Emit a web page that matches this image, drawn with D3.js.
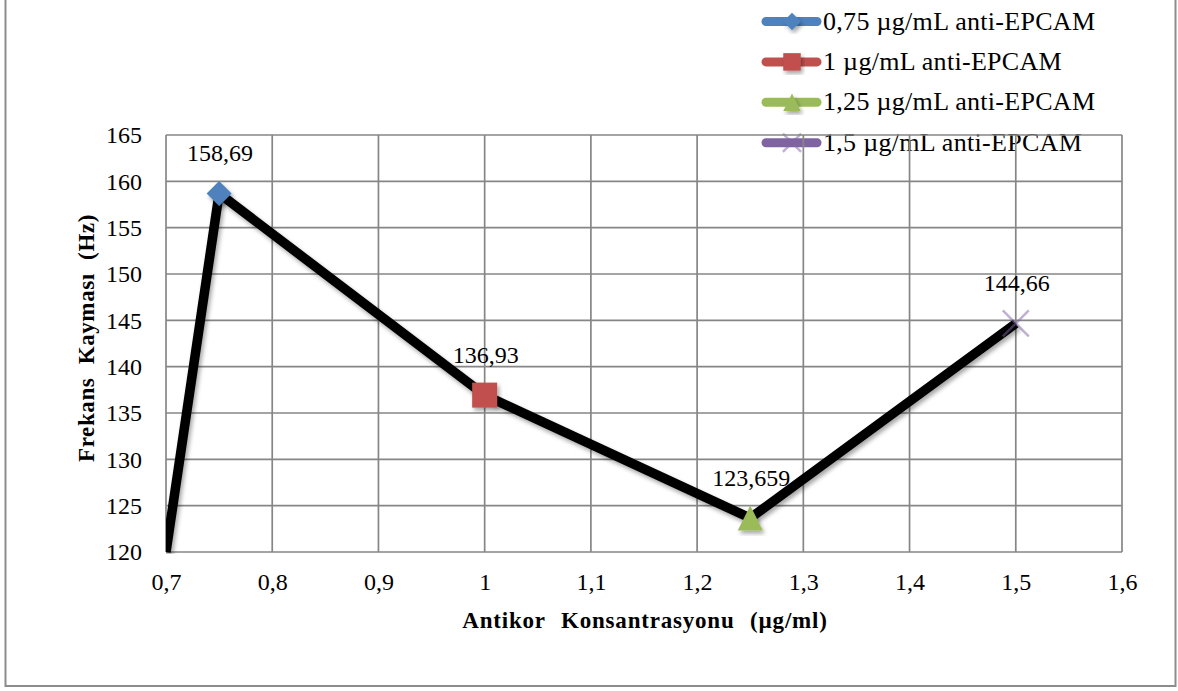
<!DOCTYPE html>
<html>
<head>
<meta charset="utf-8">
<script src="https://cdn.jsdelivr.net/npm/d3@7"></script>
<style>
  body { margin: 0; background: #fff; }
  svg text { font-family: "Liberation Serif", "Times New Roman", serif; fill: #000; }
</style>
</head>
<body>
<div id="chart"></div>
<script>
// data
var concentrations = [0.7, 0.75, 1, 1.25, 1.5];
var shifts = [120, 158.69, 136.93, 123.659, 144.66];
var pointLabels = ['', '158,69', '136,93', '123,659', '144,66'];
var seriesNames = ['0,75 \u00b5g/mL anti-EPCAM', '1 \u00b5g/mL anti-EPCAM', '1,25 \u00b5g/mL anti-EPCAM', '1,5 \u00b5g/mL anti-EPCAM'];
var seriesColors = ['#4f81bd', '#c0504d', '#9bbb59', '#8064a2'];
var seriesShapes = ['diamond', 'square', 'triangle', 'cross'];
var xTicks = [0.7, 0.8, 0.9, 1, 1.1, 1.2, 1.3, 1.4, 1.5, 1.6];
var yTicks = [120, 125, 130, 135, 140, 145, 150, 155, 160, 165];

var width = 1178, height = 691;
var margin = {top: 135, left: 166, right: 56, bottom: 139};

var svg = d3.select('#chart').append('svg')
    .attr('width', width)
    .attr('height', height);

var defs = svg.append('defs');
var shadow = defs.append('filter').attr('id', 'shadow')
    .attr('x', '-20%').attr('y', '-20%').attr('width', '140%').attr('height', '140%');
shadow.append('feDropShadow').attr('dx', 2).attr('dy', 3).attr('stdDeviation', 2)
    .attr('flood-color', '#000').attr('flood-opacity', 0.35);

// outer frame
svg.append('rect')
    .attr('x', 5.5).attr('y', -5)
    .attr('width', 1170).attr('height', 691)
    .attr('fill', 'none').attr('stroke', '#8c8c8c').attr('stroke-width', 2);

var x = d3.scaleLinear().domain([0.7, 1.6]).range([margin.left, width - margin.right]);
var y = d3.scaleLinear().domain([120, 165]).range([height - margin.bottom, margin.top]);

defs.append('clipPath').attr('id', 'plotclip')
    .append('rect')
    .attr('x', x(0.7)).attr('y', 0)
    .attr('width', x(1.6) - x(0.7) + 40).attr('height', y(120) + 2);

var fmt = function(d) { return String(+d.toFixed(2)).replace('.', ','); };

//-----legend (drawn first, plot grid sits over it)-------
var legend = svg.append('g').attr('class', 'legend');
seriesNames.forEach(function(name, i) {
    var ly = 21.5 + i * 40.4;
    var g = legend.append('g').attr('transform', 'translate(0,' + ly + ')');
    g.append('line')
        .attr('x1', 766).attr('x2', 817).attr('y1', 0).attr('y2', 0)
        .attr('stroke', seriesColors[i]).attr('stroke-width', 9)
        .attr('stroke-linecap', 'round');
    drawMarker(g, seriesShapes[i], seriesColors[i], 792, 0, 0.7);
    g.append('text')
        .attr('x', 823).attr('y', 8)
        .attr('font-size', 26)
        .attr('letter-spacing', 0.3)
        .text(name);
});

//-----grid-------
var plot = svg.append('g');
plot.selectAll('line.vgrid').data(xTicks).enter().append('line')
    .attr('class', 'vgrid')
    .attr('x1', function(d) { return x(d); }).attr('x2', function(d) { return x(d); })
    .attr('y1', y(120)).attr('y2', y(165))
    .attr('stroke', '#868686').attr('stroke-width', 1.7);
plot.selectAll('line.hgrid').data(yTicks).enter().append('line')
    .attr('class', 'hgrid')
    .attr('x1', x(0.7)).attr('x2', x(1.6))
    .attr('y1', function(d) { return y(d); }).attr('y2', function(d) { return y(d); })
    .attr('stroke', '#868686').attr('stroke-width', 1.7);

//-----axes-------
var xAxis = d3.axisBottom(x).tickValues(xTicks).tickFormat(fmt).tickSize(0).tickPadding(21);
var gx = svg.append('g').attr('transform', 'translate(0,' + y(120) + ')').call(xAxis);
gx.select('.domain').remove();
gx.selectAll('text').attr('font-size', 24).attr('font-family', 'Liberation Serif, serif').attr('fill', '#000');

var yAxis = d3.axisLeft(y).tickValues(yTicks).tickFormat(d3.format('d')).tickSize(0).tickPadding(24);
var gy = svg.append('g').attr('transform', 'translate(' + x(0.7) + ',0)').call(yAxis);
gy.select('.domain').remove();
gy.selectAll('text').attr('font-size', 24).attr('font-family', 'Liberation Serif, serif').attr('fill', '#000');

svg.append('text')
    .attr('x', 645).attr('y', 628)
    .attr('text-anchor', 'middle')
    .attr('font-size', 23).attr('font-weight', 'bold')
    .attr('letter-spacing', 0.8)
    .attr('word-spacing', 9)
    .text('Antikor Konsantrasyonu (\u00b5g/ml)');

svg.append('text')
    .attr('transform', 'translate(94,338) rotate(-90)')
    .attr('text-anchor', 'middle')
    .attr('font-size', 23).attr('font-weight', 'bold')
    .attr('letter-spacing', 0.6)
    .attr('word-spacing', 7)
    .text('Frekans Kaymas\u0131 (Hz)');

//-----line-------
var pts = concentrations.map(function(c, i) { return [c, shifts[i]]; });
var line = d3.line().x(function(d) { return x(d[0]); }).y(function(d) { return y(d[1]); });
svg.append('g').attr('clip-path', 'url(#plotclip)')
  .append('path')
    .datum(pts)
    .attr('d', line)
    .attr('fill', 'none')
    .attr('stroke', '#000').attr('stroke-width', 9.5)
    .attr('stroke-linejoin', 'miter')
    .attr('filter', 'url(#shadow)');

//-----markers and labels-------
pts.forEach(function(p, i) {
    if (i === 0) return;
    var k = i - 1;
    drawMarker(svg, seriesShapes[k], seriesColors[k], x(p[0]), y(p[1]), 1);
    svg.append('text')
        .attr('x', x(p[0]) + 1).attr('y', y(p[1]) - 32)
        .attr('text-anchor', 'middle')
        .attr('font-size', 24)
        .text(pointLabels[i]);
});

function drawMarker(g, shape, color, cx, cy, s) {
    var m;
    if (shape === 'diamond') {
        var r = 12.5 * s;
        m = g.append('path').attr('d', 'M' + cx + ',' + (cy - r) + 'L' + (cx + r) + ',' + cy + 'L' + cx + ',' + (cy + r) + 'L' + (cx - r) + ',' + cy + 'Z')
            .attr('fill', color);
    } else if (shape === 'square') {
        var h = 12.5 * s;
        m = g.append('rect').attr('x', cx - h).attr('y', cy - h).attr('width', 2 * h).attr('height', 2 * h)
            .attr('fill', color);
    } else if (shape === 'triangle') {
        var t = 12.5 * s;
        m = g.append('path').attr('d', 'M' + cx + ',' + (cy - t) + 'L' + (cx + t) + ',' + (cy + t) + 'L' + (cx - t) + ',' + (cy + t) + 'Z')
            .attr('fill', color);
    } else {
        var c = 13 * s;
        m = g.append('path').attr('d', 'M' + (cx - c) + ',' + (cy - c) + 'L' + (cx + c) + ',' + (cy + c) + 'M' + (cx - c) + ',' + (cy + c) + 'L' + (cx + c) + ',' + (cy - c))
            .attr('stroke', color).attr('stroke-width', 2.5).attr('stroke-opacity', 0.5).attr('fill', 'none');
        return m;
    }
    m.attr('filter', 'url(#shadow)');
    return m;
}
</script>
</body>
</html>
